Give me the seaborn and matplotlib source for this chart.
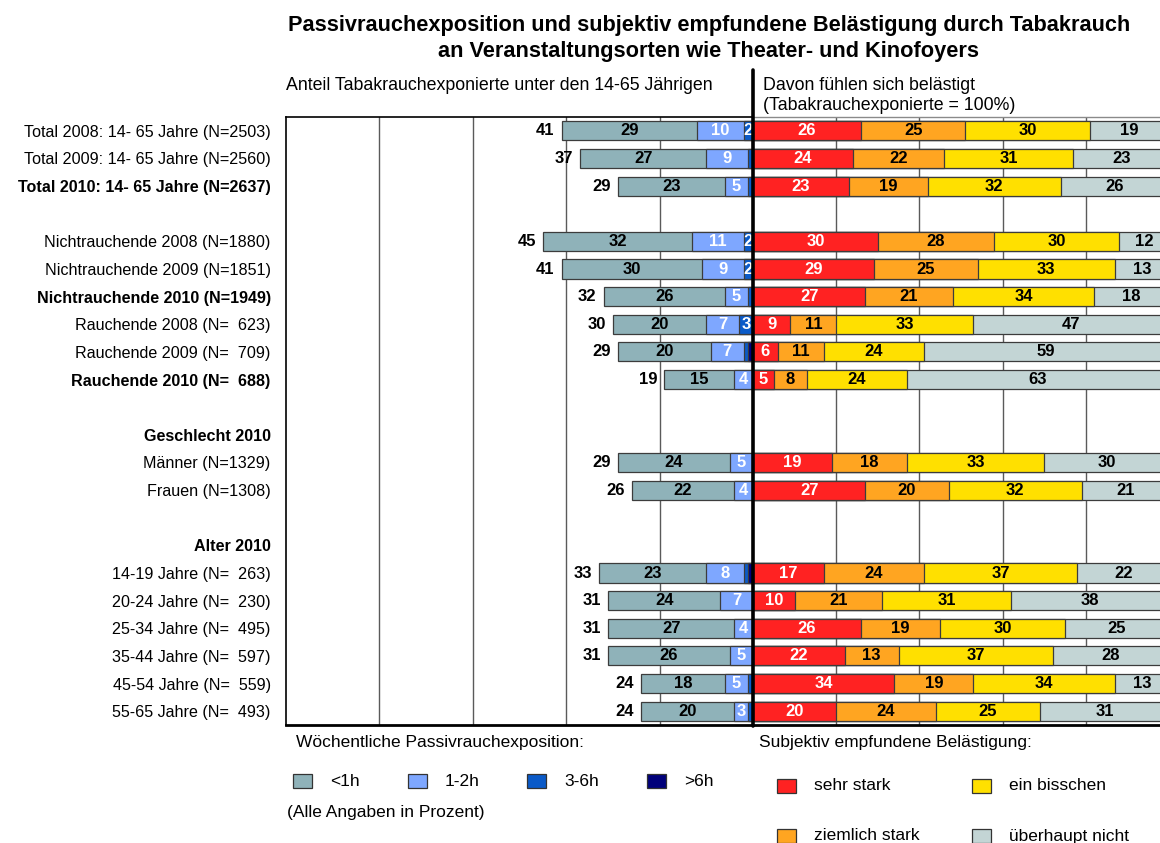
import pandas as pd
import seaborn as sns
import matplotlib.pyplot as plt
from matplotlib.patches import Rectangle
from matplotlib.lines import Line2D

# rows of the chart, top to bottom (blank strings are spacer rows)
row_labels = [
    "Total 2008: 14- 65 Jahre (N=2503)",
    "Total 2009: 14- 65 Jahre (N=2560)",
    "Total 2010: 14- 65 Jahre (N=2637)",
    " ",
    "Nichtrauchende 2008 (N=1880)",
    "Nichtrauchende 2009 (N=1851)",
    "Nichtrauchende 2010 (N=1949)",
    "Rauchende 2008 (N=  623)",
    "Rauchende 2009 (N=  709)",
    "Rauchende 2010 (N=  688)",
    "  ",
    "Geschlecht 2010",
    "Männer (N=1329)",
    "Frauen (N=1308)",
    "   ",
    "Alter 2010",
    "14-19 Jahre (N=  263)",
    "20-24 Jahre (N=  230)",
    "25-34 Jahre (N=  495)",
    "35-44 Jahre (N=  597)",
    "45-54 Jahre (N=  559)",
    "55-65 Jahre (N=  493)",
]
bold_rows = ["Total 2010: 14- 65 Jahre (N=2637)", "Nichtrauchende 2010 (N=1949)",
             "Rauchende 2010 (N=  688)", "Geschlecht 2010", "Alter 2010"]

# rows that carry data
groups = [r for r in row_labels if r.strip() and r not in ("Geschlecht 2010", "Alter 2010")]

# exposure (share of all 14-65 year olds)
exposed_total = [41, 37, 29, 45, 41, 32, 30, 29, 19, 29, 26, 33, 31, 31, 31, 24, 24]
exp_lt1h = [29, 27, 23, 32, 30, 26, 20, 20, 15, 24, 22, 23, 24, 27, 26, 18, 20]
exp_1_2h = [10, 9, 5, 11, 9, 5, 7, 7, 4, 5, 4, 8, 7, 4, 5, 5, 3]
exp_3_6h = [2, 1, 1, 2, 2, 1, 3, 1, 0, 0, 0, 1, 0, 0, 0, 1, 1]
exp_gt6h = [0, 0, 0, 0, 0, 0, 0, 1, 0, 0, 0, 1, 0, 0, 0, 0, 0]

# annoyance (exposed = 100%)
ann_sehr = [26, 24, 23, 30, 29, 27, 9, 6, 5, 19, 27, 17, 10, 26, 22, 34, 20]
ann_ziemlich = [25, 22, 19, 28, 25, 21, 11, 11, 8, 18, 20, 24, 21, 19, 13, 19, 24]
ann_bisschen = [30, 31, 32, 30, 33, 34, 33, 24, 24, 33, 32, 37, 31, 30, 37, 34, 25]
ann_nicht = [19, 23, 26, 12, 13, 18, 47, 59, 63, 30, 21, 22, 38, 25, 28, 13, 31]

exp_names = ["<1h", "1-2h", "3-6h", ">6h"]
exp_colors = ["#8fb2b9", "#7ea7ff", "#0a5ac8", "#00007a"]
ann_names = ["sehr stark", "ziemlich stark", "ein bisschen", "überhaupt nicht"]
ann_colors = ["#ff2222", "#ffa521", "#ffe000", "#c3d5d5"]

sns.set_style("white")
plt.rcParams['font.family'] = ['Liberation Sans', 'DejaVu Sans']
plt.rcParams['text.color'] = 'black'
plt.rcParams['ytick.color'] = 'black'

df = pd.DataFrame({
    "label": groups, "total": exposed_total,
    "lt1h": exp_lt1h, "h12": exp_1_2h, "h36": exp_3_6h, "gt6h": exp_gt6h,
    "sehr": ann_sehr, "ziemlich": ann_ziemlich, "bisschen": ann_bisschen, "nicht": ann_nicht,
})

W, H = 1160, 843
fig = plt.figure(figsize=(W / 100, H / 100), dpi=100)
ax_l = fig.add_axes([286 / W, 1 - 725 / H, 467 / W, 608 / H])
ax_r = fig.add_axes([753 / W, 1 - 725 / H, 416 / W, 608 / H])


def stack(ax, cols, colors):
    # cumulative sums drawn longest first, shorter ones on top
    cum = df[cols].cumsum(axis=1)
    cum["label"] = df["label"]
    for col, color in reversed(list(zip(cols, colors))):
        sns.barplot(data=cum, x=col, y="label", order=row_labels, color=color,
                    saturation=1, width=0.69, edgecolor="#3c3c3c", linewidth=0.9,
                    errorbar=None, ax=ax)
    return cum


# left panel grows from the centre to the left
cum_l = stack(ax_l, ["gt6h", "h36", "h12", "lt1h"], exp_colors[::-1])
ax_l.set_xlim(100, 0)
cum_r = stack(ax_r, ["sehr", "ziemlich", "bisschen", "nicht"], ann_colors)
ax_r.set_xlim(0, 100)

for ax in (ax_l, ax_r):
    ax.set_xticks([20, 40, 60, 80])
    ax.grid(axis="x", color="#5a5a5a", lw=1)
    ax.set_axisbelow(True)
    ax.tick_params(bottom=False, labelbottom=False, left=False, length=0)
    ax.set_xlabel("")
    ax.set_ylabel("")
    ax.set_ylim(len(row_labels) - 0.5, -0.5)

ax_l.set_yticks(range(len(row_labels)))
ax_l.set_yticklabels(row_labels, fontsize=11.6, color="black")
ax_l.tick_params(axis="y", pad=11)
for t in ax_l.get_yticklabels():
    if t.get_text() in bold_rows:
        t.set_fontweight("bold")
ax_r.tick_params(labelleft=False)

for s in ["left", "top", "bottom"]:
    ax_l.spines[s].set_color("black")
    ax_l.spines[s].set_linewidth(1.2)
ax_l.spines["right"].set_visible(False)
ax_r.spines["left"].set_visible(False)
ax_r.spines["right"].set_visible(False)
ax_r.spines["top"].set_color("#8a8a8a")
ax_r.spines["top"].set_linewidth(1)
ax_r.spines["bottom"].set_color("black")
ax_r.spines["bottom"].set_linewidth(2)
ax_l.spines["bottom"].set_linewidth(2)

# value labels
lab_kw = dict(va="center", ha="center", fontsize=12, fontweight="bold", zorder=5)
for i, r in df.iterrows():
    y = row_labels.index(r["label"])
    ax_l.text(r["total"] + 1.5, y, str(r["total"]), ha="right", va="center",
              fontsize=12, fontweight="bold")
    ax_l.text(cum_l.loc[i, "h12"] + r["lt1h"] / 2, y, str(r["lt1h"]), color="black", **lab_kw)
    ax_l.text(cum_l.loc[i, "h36"] + r["h12"] / 2, y, str(r["h12"]), color="white", **lab_kw)
    if r["h36"] >= 2:
        ax_l.text(cum_l.loc[i, "gt6h"] + r["h36"] / 2, y, str(r["h36"]), color="white", **lab_kw)
    start = 0
    for col, c in zip(["sehr", "ziemlich", "bisschen", "nicht"], ["white", "black", "black", "black"]):
        ax_r.text(start + r[col] / 2, y, str(r[col]), color=c, **lab_kw)
        start += r[col]

# centre divider, reaching up into the header
fig.add_artist(Line2D([753 / W, 753 / W], [1 - 70 / H, 1 - 726 / H], color="black", lw=2.6))

fig.text(709 / W, 1 - 25 / H, "Passivrauchexposition und subjektiv empfundene Belästigung durch Tabakrauch",
         ha="center", va="center", fontsize=15.7, fontweight="bold")
fig.text(709 / W, 1 - 51 / H, "an Veranstaltungsorten wie Theater- und Kinofoyers",
         ha="center", va="center", fontsize=15.7, fontweight="bold")
fig.text(286 / W, 1 - 85 / H, "Anteil Tabakrauchexponierte unter den 14-65 Jährigen",
         ha="left", va="center", fontsize=12.8)
fig.text(763 / W, 1 - 85 / H, "Davon fühlen sich belästigt", ha="left", va="center", fontsize=12.8)
fig.text(763 / W, 1 - 105 / H, "(Tabakrauchexponierte = 100%)", ha="left", va="center", fontsize=12.8)

# legends
fig.text(296 / W, 1 - 743 / H, "Wöchentliche Passivrauchexposition:", ha="left", va="center", fontsize=12.5)
fig.text(287 / W, 1 - 812 / H, "(Alle Angaben in Prozent)", ha="left", va="center", fontsize=12.5)
fig.text(759 / W, 1 - 743 / H, "Subjektiv empfundene Belästigung:", ha="left", va="center", fontsize=12.5)


def legend_item(x, y, color, text):
    fig.add_artist(Rectangle((x / W, 1 - (y + 7) / H), 19 / W, 14 / H, transform=fig.transFigure,
                             facecolor=color, edgecolor="#333333", lw=0.9))
    fig.text((x + 37) / W, 1 - y / H, text, ha="left", va="center", fontsize=12.5)


for x, name, color in zip([293, 408, 527, 647], exp_names, exp_colors):
    legend_item(x, 781, color, name)
for (x, y), name, color in zip([(777, 786), (777, 836), (972, 786), (972, 836)], ann_names, ann_colors):
    legend_item(x, y, color, name)

fig.savefig("out.png", dpi=100)
